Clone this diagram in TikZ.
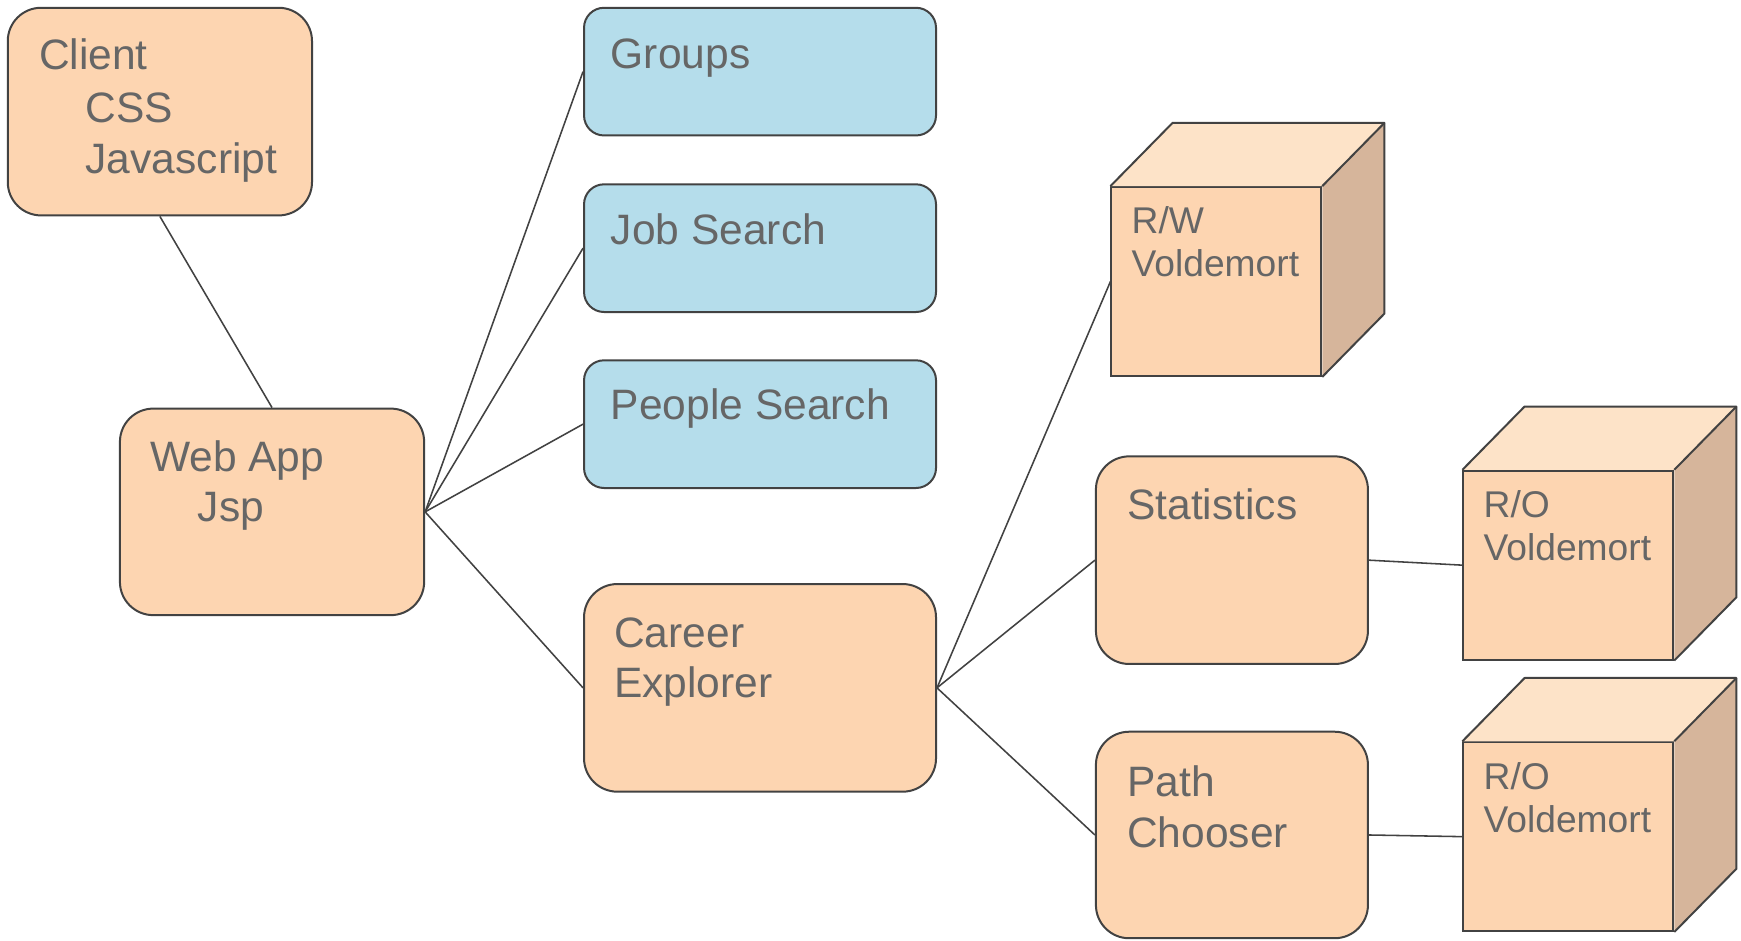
\documentclass[tikz,border=0pt]{standalone}
\usepackage{fontspec}
\setmainfont{Liberation Sans}
\definecolor{peach}{HTML}{FDD5B1}
\definecolor{skyb}{HTML}{B5DDEB}
\definecolor{cubetop}{HTML}{FDE3C8}
\definecolor{cubeside}{HTML}{D6B59B}
\definecolor{txt}{HTML}{666666}
\definecolor{ln}{HTML}{424242}
\begin{document}
\begin{tikzpicture}[x=1pt,y=-1pt,
  obox/.style={draw=ln, line width=1.8pt, fill=peach, rounded corners=30pt, inner sep=0pt},
  bbox/.style={draw=ln, line width=1.8pt, fill=skyb, rounded corners=18pt, inner sep=0pt, minimum width=317pt, minimum height=115pt},
  front/.style={draw=ln, line width=1.8pt, fill=peach, inner sep=0pt, minimum width=189pt, minimum height=170pt},
  face/.style={draw=ln, line width=1.8pt, line join=round},
  big/.style={text=txt, inner sep=0pt, anchor=base west, font=\fontsize{38.3}{46}\selectfont},
  small/.style={text=txt, inner sep=0pt, anchor=base west, font=\fontsize{33.5}{39}\selectfont},
  conn/.style={draw=ln, line width=1.4pt}]
\useasboundingbox (0,0) rectangle (1568,846.6);

% boxes
\node[obox, minimum width=274pt, minimum height=187pt] (client) at (144,100.5) {};
\node[obox, minimum width=274pt, minimum height=186pt] (webapp) at (245,461) {};
\node[bbox] (groups) at (684.5,64.5) {};
\node[bbox] (jobs) at (684.5,223.5) {};
\node[bbox] (people) at (684.5,382) {};
\node[obox, minimum width=317pt, minimum height=187pt] (career) at (684.5,619.5) {};
\node[obox, minimum width=245pt, minimum height=187pt] (stats) at (1109.5,504.5) {};
\node[obox, minimum width=245pt, minimum height=186pt] (path) at (1109.5,752) {};

% cubes
\node[front] (rw) at (1095.5,253.5) {};
\node[front] (ro1) at (1412.5,509) {};
\node[front] (ro2) at (1412.5,753.5) {};
\foreach \c in {rw,ro1,ro2}{
  \fill[cubetop] (\c.north west) -- ([shift={(56,-57)}]\c.north west) -- ([shift={(56,-57)}]\c.north east) -- (\c.north east) -- cycle;
  \fill[cubeside] (\c.north east) -- ([shift={(56,-57)}]\c.north east) -- ([shift={(56,-57)}]\c.south east) -- (\c.south east) -- cycle;
  \draw[face] (\c.north west) -- ([shift={(56,-57)}]\c.north west) -- ([shift={(56,-57)}]\c.north east) -- ([shift={(56,-57)}]\c.south east) -- (\c.south east);
  \draw[face] (\c.north east) -- ([shift={(56,-57)}]\c.north east);
}

% texts
\node[big] (tclient) at (35,63) {Client};
\node[big] (tcss) at (77,110) {CSS};
\node[big] (tjs) at (77,156) {Javascript};
\node[big] (tweb) at (135,425) {Web App};
\node[big] (tjsp) at (178,470) {Jsp};
\node[big] (tgroups) at (550,62) {Groups};
\node[big] (tjobs) at (550,220) {Job Search};
\node[big] (tpeople) at (550,378) {People Search};
\node[big] (tcareer) at (553,583) {Career};
\node[big] (texpl) at (553,628) {Explorer};
\node[small] (trw) at (1019,210) {R/W};
\node[small] (tv1) at (1019,249) {Voldemort};
\node[big] (tstats) at (1015,468) {Statistics};
\node[small] (tro1) at (1336,466) {R/O};
\node[small] (tv2) at (1336,505) {Voldemort};
\node[big] (tpath) at (1015,717) {Path};
\node[big] (tchoose) at (1015,763) {Chooser};
\node[small] (tro2) at (1336,711) {R/O};
\node[small] (tv3) at (1336,750) {Voldemort};

% connectors
\draw[conn] (client.south) -- (webapp.north);
\draw[conn] (webapp.east) -- (groups.west);
\draw[conn] (webapp.east) -- (jobs.west);
\draw[conn] (webapp.east) -- (people.west);
\draw[conn] (webapp.east) -- (career.west);
\draw[conn] (career.east) -- (rw.west);
\draw[conn] (career.east) -- (stats.west);
\draw[conn] (career.east) -- (path.west);
\draw[conn] (stats.east) -- (ro1.west);
\draw[conn] (path.east) -- (ro2.west);
\end{tikzpicture}
\end{document}
